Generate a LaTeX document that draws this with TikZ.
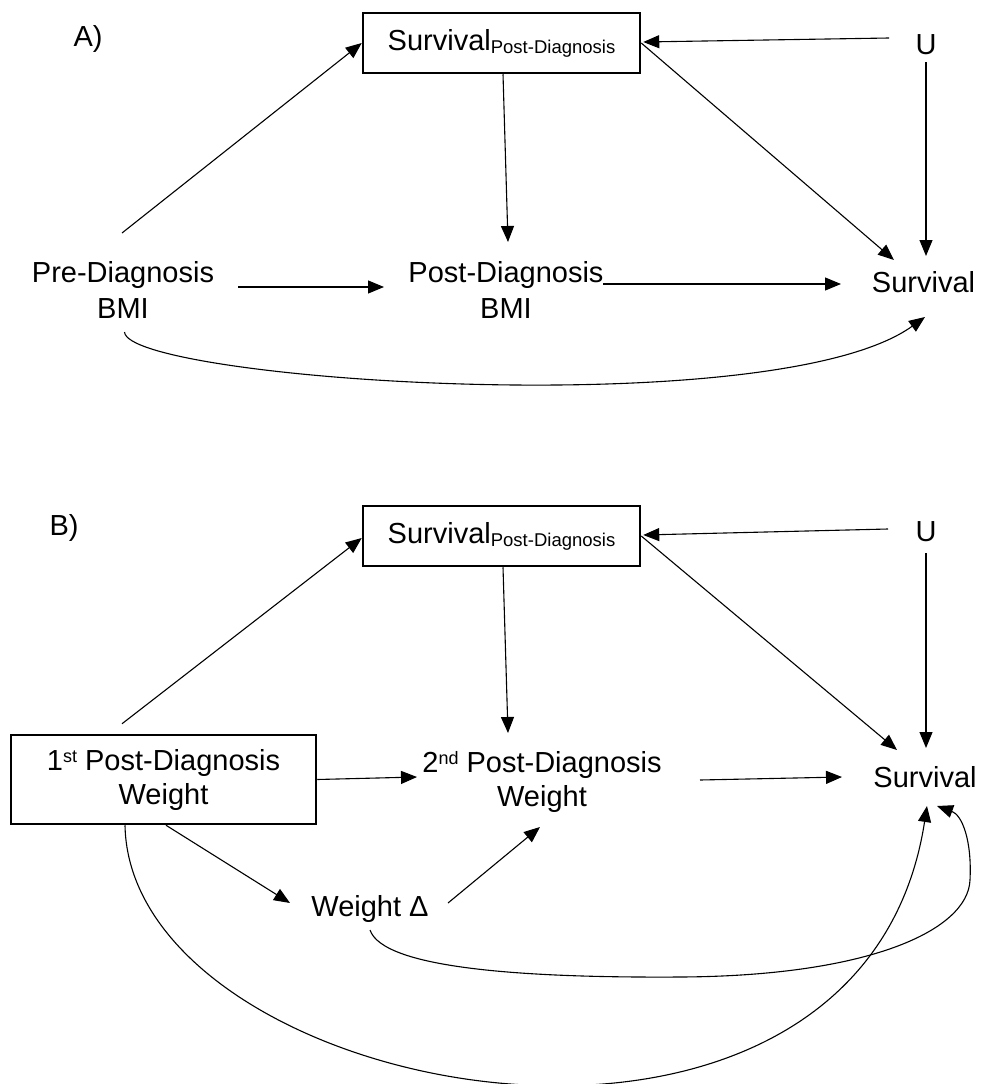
\documentclass[tikz,border=0pt]{standalone}
\usepackage{fontspec}
\setmainfont{Liberation Sans}
\usetikzlibrary{arrows.meta,calc}
\begin{document}
\begin{tikzpicture}[x=1pt,y=-1pt,
  lbl/.style={inner sep=0pt, align=center, font=\fontsize{29}{36}\selectfont},
  lblb/.style={inner sep=0pt, align=center, font=\fontsize{29}{34}\selectfont},
  sbox/.style={draw, line width=2.5pt, inner sep=0pt, align=center, font=\fontsize{29}{34}\selectfont},
  arr/.style={line width=1.1pt, -{Triangle[length=16pt,width=13pt]}}]
\useasboundingbox[fill=white] (0,0) rectangle (981,1084);
\newcommand{\subt}[1]{\raisebox{-3pt}{\fontsize{18.5}{20}\selectfont #1}}
\newcommand{\supt}[1]{\raisebox{8pt}{\fontsize{18}{20}\selectfont #1}}
% ---------- Panel A ----------
\node[lbl] (labA) at (88,39) {A)};
\node[sbox, minimum width=277pt, minimum height=60pt] (spA) at (501.5,43) {Survival\subt{Post-Diagnosis}};
\node[lbl] (uA) at (926,45) {U};
\node[lbl] (pre) at (123,289.5) {Pre-Diagnosis\\BMI};
\node[lbl] (post) at (506,289.5) {Post-Diagnosis\\BMI};
\node[lbl] (survA) at (923.5,282.5) {Survival};
\draw[arr] ($(pre)+(-1,-56.5)$) -- (spA.west);
\draw[arr] ($(pre)+(115,-2.5)$) -- ($(post)+(-122,-2.5)$);
\draw[arr] ($(post)+(97,-5.5)$) -- ($(survA)+(-82.5,1.5)$);
\draw[arr] ($(spA.south)+(1.5,0)$) -- ($(post)+(2,-47.5)$);
\draw[arr] (spA.east) -- ($(survA)+(-29.5,-22.5)$);
\draw[arr] ($(uA)+(-37,-7)$) -- ($(spA.east)+(2,-1)$);
\draw[arr] ($(uA)+(0,17)$) -- ($(survA)+(2.5,-26.5)$);
\draw[arr] ($(pre)+(1.5,42.5)$) .. controls (127,380) and (775,425) .. ($(survA)+(1.5,34.5)$);
% ---------- Panel B ----------
\node[lbl] (labB) at (64,528) {B)};
\node[sbox, minimum width=277pt, minimum height=60pt] (spB) at (501.5,536) {Survival\subt{Post-Diagnosis}};
\node[lbl] (uB) at (926,532) {U};
\node[sbox, minimum width=305pt, minimum height=89pt] (first) at (163.5,779.5) {1\supt{st} Post-Diagnosis\\Weight};
\node[lblb] (second) at (542,781.5) {2\supt{nd} Post-Diagnosis\\Weight};
\node[lbl] (survB) at (925,777) {Survival};
\node[lbl] (delta) at (370,908.5) {Weight Δ};
\draw[arr] ($(first.north)+(-41.5,-10)$) -- ($(spB.west)+(0,2)$);
\draw[arr] (first.east) -- ($(second)+(-125,-4.5)$);
\draw[arr] ($(spB.south)+(1.5,0)$) -- ($(second)+(-34,-48.5)$);
\draw[arr] (spB.east) -- ($(survB)+(-28,-27)$);
\draw[arr] ($(uB)+(-38,-3)$) -- ($(spB.east)+(2,-1)$);
\draw[arr] ($(uB)+(0,21)$) -- ($(survB)+(1,-29)$);
\draw[arr] ($(second)+(158,-1.5)$) -- ($(survB)+(-83,0)$);
\draw[arr] ($(first.south)+(2.5,0)$) -- ($(delta)+(-80,-5.5)$);
\draw[arr] ($(delta)+(78,-5.5)$) -- ($(second)+(-2,45.5)$);
\draw[arr] ($(delta)+(0,21.5)$) .. controls (383,968) and (520,978) .. (680,977)
  .. controls (870,976) and (968,930) .. (970,880)
  .. controls (972,840) and (962,815) .. ($(survB)+(12,29)$);
\draw[arr] ($(first.south)+(-38.5,0)$) .. controls (130,1100) and (860,1240) .. ($(survB)+(2,29)$);
\end{tikzpicture}
\end{document}
